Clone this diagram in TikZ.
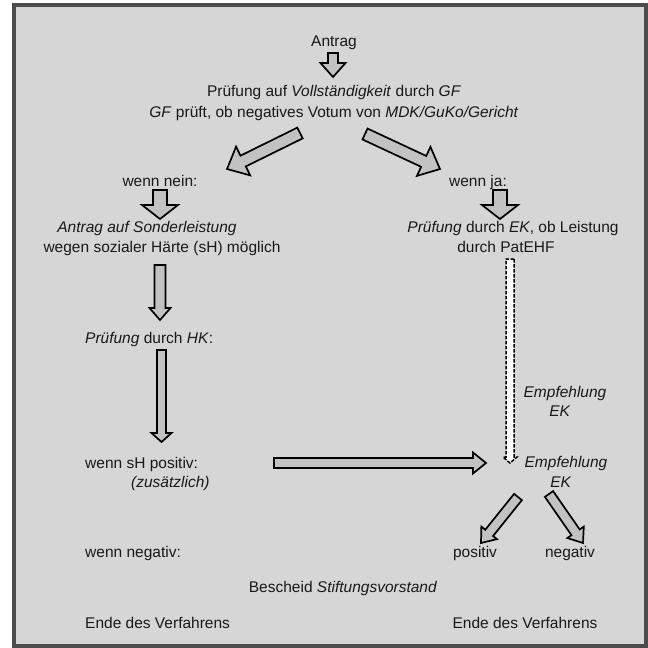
\documentclass[tikz,border=0pt]{standalone}
\usepackage{fontspec}
\setmainfont{Liberation Sans}
\usetikzlibrary{arrows,shapes,calc,positioning}

\definecolor{bggray}{HTML}{D6D6D6}
\definecolor{framegray}{HTML}{4C4C4C}
\definecolor{arrgray}{HTML}{C2C2C2}

\tikzset{
  txt/.style={inner sep=0pt, font=\fontsize{15.5}{20}\selectfont, text=black!90},
  fatarrow/.style={fill=arrgray, draw=black, line width=1.7pt, line join=miter},
  dasharrow/.style={fill=white, draw=black, line width=1.5pt, dash pattern=on 3.5pt off 1.5pt},
}

%% block arrow: tail, tip, half shaft, half head, head length, style
\newcommand{\blockarrow}[6]{%
  \path ($(#2)!#5!(#1)$) coordinate (hb);
  \draw[#6] ($(#1)!#3!90:(#2)$) -- ($(hb)!#3!90:(#2)$) -- ($(hb)!#4!90:(#2)$) -- (#2)
    -- ($(hb)!#4!-90:(#2)$) -- ($(hb)!#3!-90:(#2)$) -- ($(#1)!#3!-90:(#2)$) -- cycle;
}

\begin{document}
\begin{tikzpicture}[x=1pt,y=-1pt]
\useasboundingbox (0,0) rectangle (648,648);
\fill[white] (0,0) rectangle (648,648);
\filldraw[fill=bggray, draw=framegray, line width=4pt] (14,5) rectangle (646,646);

%% texts
\node[txt, anchor=base] (antrag) at (334,46) {Antrag};
\node[txt, anchor=base] (vollst) at (334,96) {Prüfung auf \textit{Vollständigkeit} durch \textit{GF}};
\node[txt, anchor=base] (gfprueft) at (334,117) {\textit{GF} prüft, ob negatives Votum von \textit{MDK/GuKo/Gericht}};
\node[txt, anchor=base] (wennnein) at (160,186) {wenn nein:};
\node[txt, anchor=base] (wennja) at (478,186) {wenn ja:};
\node[txt, anchor=base] (sonder) at (147,232) {\textit{Antrag auf Sonderleistung}};
\node[txt, anchor=base] (haerte) at (162,252) {wegen sozialer Härte (sH) möglich};
\node[txt, anchor=base] (ekpruef) at (513,232) {\textit{Prüfung} durch \textit{EK}, ob Leistung};
\node[txt, anchor=base] (patehf) at (506,252) {durch PatEHF};
\node[txt, anchor=base west] (hkpruef) at (85,343) {\textit{Prüfung} durch \textit{HK}:};
\node[txt, anchor=base] (empfA) at (565,397) {\textit{Empfehlung}};
\node[txt, anchor=base] (ekA) at (560,416) {\textit{EK}};
\node[txt, anchor=base west] (shpos) at (85,468) {wenn sH positiv:};
\node[txt, anchor=base west] (zusatz) at (131,487) {\textit{(zusätzlich)}};
\node[txt, anchor=base] (empfB) at (566,467) {\textit{Empfehlung}};
\node[txt, anchor=base] (ekB) at (561,487) {\textit{EK}};
\node[txt, anchor=base west] (wennneg) at (85,557) {wenn negativ:};
\node[txt, anchor=base] (positiv) at (475,557) {positiv};
\node[txt, anchor=base] (negativ) at (570,557) {negativ};
\node[txt, anchor=base] (bescheid) at (343,592) {Bescheid \textit{Stiftungsvorstand}};
\node[txt, anchor=base west] (endeL) at (85,628) {Ende des Verfahrens};
\node[txt, anchor=base] (endeR) at (525,628) {Ende des Verfahrens};

%% arrow ends
\coordinate (antragT) at (333,53);   \coordinate (antragH) at (333,77);
\coordinate (neinT) at (300,133);    \coordinate (neinH) at (227,169);
\coordinate (jaT) at (365,134);      \coordinate (jaH) at (440,169);
\coordinate (sonderT) at (160,190);  \coordinate (sonderH) at (160,219);
\coordinate (ekT) at (500,190);      \coordinate (ekH) at (500,219);
\coordinate (hkT) at (160,265);      \coordinate (hkH) at (160,320);
\coordinate (shT) at (161.5,350);    \coordinate (shH) at (161.5,442);
\coordinate (zusT) at (274,463);     \coordinate (zusH) at (486,463);
\coordinate (empfT) at (510,259);    \coordinate (empfH) at (510,463);
\coordinate (posT) at (518,497);     \coordinate (posH) at (481,543);
\coordinate (negT) at (549,494);     \coordinate (negH) at (583,543);

%% arrows
\blockarrow{antragT}{antragH}{5pt}{12.5pt}{14pt}{fatarrow}
\blockarrow{neinT}{neinH}{6pt}{16pt}{18pt}{fatarrow}
\blockarrow{jaT}{jaH}{6pt}{16pt}{18pt}{fatarrow}
\blockarrow{sonderT}{sonderH}{7pt}{18pt}{14pt}{fatarrow}
\blockarrow{ekT}{ekH}{7pt}{18pt}{14pt}{fatarrow}
\blockarrow{hkT}{hkH}{5.5pt}{10.5pt}{12pt}{fatarrow}
\blockarrow{shT}{shH}{4.5pt}{10pt}{9pt}{fatarrow}
\blockarrow{zusT}{zusH}{5pt}{10.5pt}{13pt}{fatarrow}
\blockarrow{empfT}{empfH}{4pt}{7pt}{6pt}{dasharrow}
\blockarrow{posT}{posH}{5pt}{10pt}{13pt}{fatarrow}
\blockarrow{negT}{negH}{5pt}{10pt}{13pt}{fatarrow}
\end{tikzpicture}
\end{document}
